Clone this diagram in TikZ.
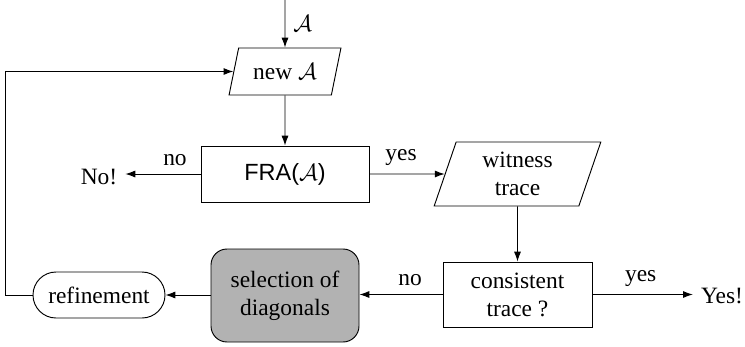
\documentclass[tikz,border=0pt]{standalone}
\usepackage{fontspec}
\setmainfont{Liberation Serif}
\setsansfont{Liberation Sans}
\usetikzlibrary{shapes.geometric, shapes.misc, arrows.meta}

\begin{document}
\begin{tikzpicture}[scale=1.0, >={Latex[length=4.2pt,width=3pt]},
    procbox/.style={draw, rectangle, align=center, inner sep=0pt},
    iobox/.style={draw, trapezium, trapezium stretches=true, align=center, inner sep=0pt},
    endtext/.style={inner sep=3.3pt}]
    \useasboundingbox (0,0) rectangle (11.175,5.19);

    % 主流程
    \coordinate (start) at (4.275,5.19);
    \node[iobox, trapezium left angle=68, trapezium right angle=112,
          minimum width=1.68cm, minimum height=0.705cm] (newA) at (4.275,4.1175) {new $\mathcal{A}$};
    \node[procbox, minimum width=2.52cm, minimum height=0.84cm] (fra) at (4.275,2.58) {\textsf{FRA($\mathcal{A}$)}};
    \node[iobox, trapezium left angle=74, trapezium right angle=106,
          minimum width=2.505cm, minimum height=0.96cm] (witness) at (7.7625,2.58) {witness\\trace};
    \node[procbox, minimum width=2.235cm, minimum height=0.975cm] (consist) at (7.7625,0.7725) {consistent\\trace ?};
    \node[procbox, fill=gray!60, rounded corners=0.24cm,
          minimum width=2.22cm, minimum height=1.395cm] (select) at (4.275,0.7575) {selection of\\diagonals};
    \node[draw, rounded rectangle, inner sep=0pt,
          minimum width=1.98cm, minimum height=0.69cm] (refine) at (1.485,0.765) {refinement};

    % 结果
    \node[endtext] (no) at (1.485,2.54) {No!};
    \node[endtext] (yes) at (10.83,0.75) {Yes!};

    % 连线
    \draw[->] (start) -- node[right] {$\mathcal{A}$} (newA);
    \draw[->] (newA) -- (fra);
    \draw[->] (fra.west) -- node[above, pos=0.34] {no} (no.east |- fra.west);
    \draw[->] (fra.east) -- node[above, pos=0.42] {yes} (witness.west);
    \draw[->] (witness) -- (consist);
    \draw[->] (consist.east) -- node[above, pos=0.48] {yes} (yes.west |- consist.east);
    \draw[->] (consist.west) -- node[above, pos=0.39] {no} (select.east |- consist.west);
    \draw[->] (select.west |- refine.east) -- (refine.east);
    \draw[->] (refine.west) -- ++(-0.405,0) |- (newA.west);
\end{tikzpicture}
\end{document}
